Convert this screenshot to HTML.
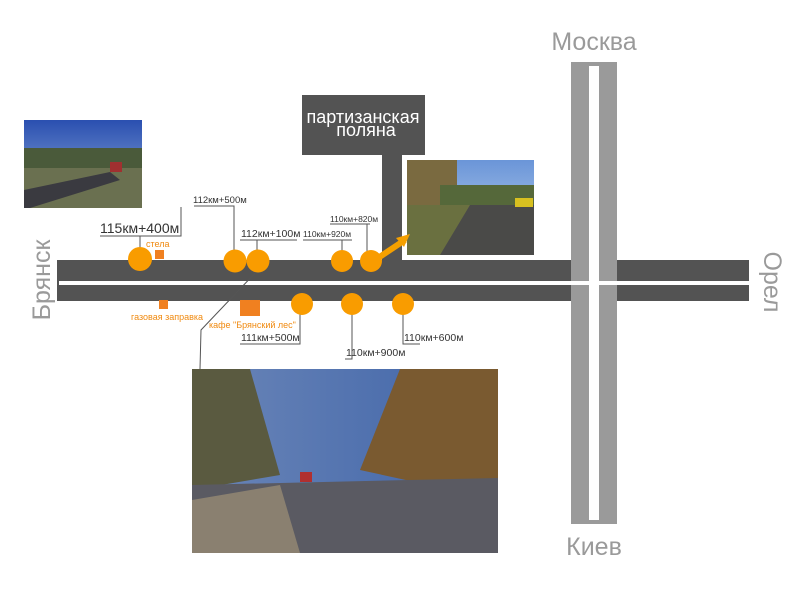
<!DOCTYPE html>
<html><head><meta charset="utf-8"><style>
body{margin:0;background:#fff;width:800px;height:600px;overflow:hidden}
svg{display:block}
text{font-family:"Liberation Sans","DejaVu Sans",sans-serif}
</style></head><body>
<svg width="800" height="600" viewBox="0 0 800 600" xmlns="http://www.w3.org/2000/svg">
<defs>
<linearGradient id="sky1" x1="0" y1="0" x2="0" y2="1"><stop offset="0" stop-color="#2a4fb0"/><stop offset="1" stop-color="#9ab8e0"/></linearGradient>
<linearGradient id="sky2" x1="0" y1="0" x2="0" y2="1"><stop offset="0" stop-color="#6a95d8"/><stop offset="1" stop-color="#c8daf0"/></linearGradient>
<linearGradient id="sky3" x1="0" y1="0" x2="1" y2="0"><stop offset="0" stop-color="#6b86b8"/><stop offset="1" stop-color="#3e63a8"/></linearGradient>
</defs>
<rect x="571" y="62" width="46" height="462" fill="#9a9a9a"/>
<rect x="589" y="66" width="10" height="454" fill="#fff"/>
<rect x="57" y="260" width="514" height="41" fill="#535353"/>
<rect x="617" y="260" width="132" height="41" fill="#535353"/>
<rect x="59" y="281" width="690" height="4" fill="#fff"/>
<rect x="302" y="95" width="123" height="60" fill="#535353"/>
<rect x="382" y="150" width="20" height="112" fill="#535353"/>
<text x="363" y="123" font-size="18" fill="#fff" text-anchor="middle">партизанская</text>
<text x="366" y="136" font-size="18" fill="#fff" text-anchor="middle">поляна</text>
<rect x="24" y="120" width="118" height="88" fill="url(#sky1)"/>
<rect x="24" y="148" width="118" height="20" fill="#4a5a3a"/>
<polygon points="24,168 142,168 142,208 24,208" fill="#6a7050"/>
<polygon points="24,190 110,172 120,180 30,208 24,208" fill="#3a3a40"/>
<rect x="110" y="162" width="12" height="10" fill="#a03030"/>
<rect x="407" y="160" width="127" height="95" fill="url(#sky2)"/>
<rect x="407" y="160" width="50" height="50" fill="#7a6a40"/>
<rect x="440" y="185" width="94" height="20" fill="#55683a"/>
<polygon points="407,205 534,205 534,255 407,255" fill="#4a4a48"/>
<polygon points="407,205 470,205 440,255 407,255" fill="#6a7040"/>
<rect x="515" y="198" width="18" height="9" fill="#d8c020"/>
<rect x="192" y="369" width="306" height="184" fill="url(#sky3)"/>
<polygon points="192,369 250,369 280,475 192,490" fill="#5a5a40"/>
<polygon points="360,470 400,369 498,369 498,500" fill="#7a5a30"/>
<polygon points="192,485 498,478 498,553 192,553" fill="#5a5a62"/>
<polygon points="192,500 280,485 300,553 192,553" fill="#8a8070"/>
<rect x="300" y="472" width="12" height="10" fill="#b03030"/>
<line x1="372" y1="262" x2="405" y2="240" stroke="#f5a000" stroke-width="6"/>
<polygon points="410,234 396,238 404,247" fill="#f5a000"/>
<g stroke="#555" stroke-width="1" fill="none">
<polyline points="100,236 181,236 181,207"/>
<line x1="140" y1="236" x2="140" y2="252"/>
<polyline points="194,206 234,206 234,250"/>
<polyline points="240,240 297,240"/>
<line x1="257" y1="240" x2="257" y2="250"/>
<polyline points="303,240 352,240"/>
<line x1="342" y1="240" x2="342" y2="252"/>
<polyline points="330,224 370,224"/>
<line x1="367" y1="224" x2="367" y2="252"/>
<polyline points="258,270 201,330 200,369"/>
<polyline points="240,344 300,344 300,310"/>
<polyline points="345,359 352,359 352,310"/>
<polyline points="403,310 403,344 420,344"/>
</g>
<g fill="#f99c00">
<circle cx="140" cy="259" r="12"/><circle cx="235" cy="261" r="11.5"/><circle cx="258" cy="261" r="11.5"/>
<circle cx="342" cy="261" r="11"/><circle cx="371" cy="261" r="11"/>
<circle cx="302" cy="304" r="11"/><circle cx="352" cy="304" r="11"/><circle cx="403" cy="304" r="11"/>
</g>
<rect x="155" y="250" width="9" height="9" fill="#f08020"/>
<rect x="159" y="300" width="9" height="9" fill="#f08020"/>
<rect x="240" y="300" width="20" height="16" fill="#f08020"/>
<g fill="#333">
<text x="100" y="233" font-size="14">115км+400м</text>
<text x="193" y="203" font-size="9.5">112км+500м</text>
<text x="241" y="237" font-size="10.5">112км+100м</text>
<text x="303" y="237" font-size="8.5">110км+920м</text>
<text x="330" y="222" font-size="8.5">110км+820м</text>
<text x="241" y="341" font-size="10.5">111км+500м</text>
<text x="346" y="356" font-size="10.5">110км+900м</text>
<text x="404" y="341" font-size="10.5">110км+600м</text>
</g>
<g fill="#f08a10" font-size="9">
<text x="146" y="247">стела</text>
<text x="131" y="320">газовая заправка</text>
<text x="209" y="328">кафе "Брянский лес"</text>
</g>
<g fill="#9a9a9a" font-size="25">
<text x="594" y="50" text-anchor="middle">Москва</text>
<text x="594" y="555" text-anchor="middle">Киев</text>
<text transform="translate(50,280) rotate(-90)" text-anchor="middle">Брянск</text>
<text transform="translate(764,282) rotate(90)" text-anchor="middle">Орел</text>
</g>
</svg>
</body></html>
